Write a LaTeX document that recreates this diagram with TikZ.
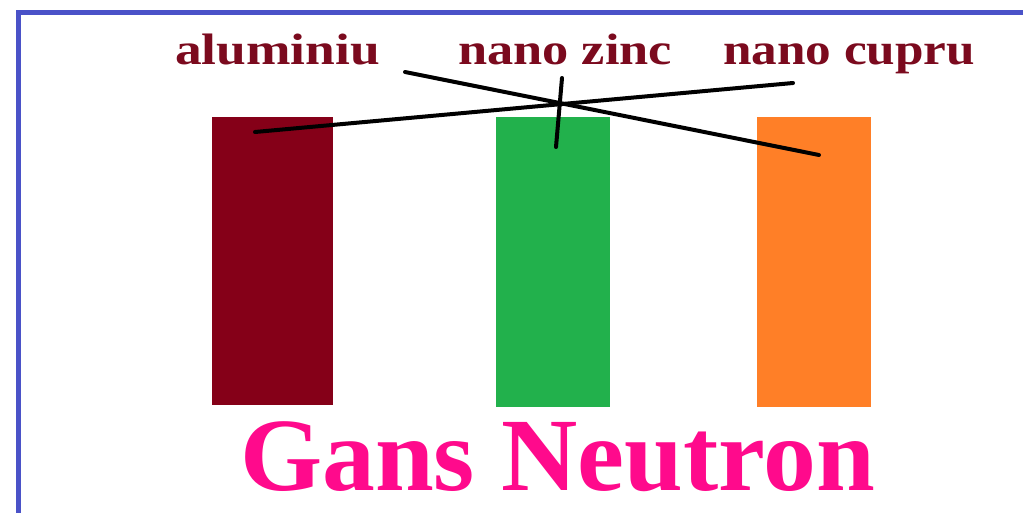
\documentclass[tikz,border=0pt]{standalone}
\usepackage{fontspec}
\setmainfont{Liberation Serif}
\usepackage{graphicx}
\definecolor{frameblue}{HTML}{4A52C8}
\definecolor{labelred}{HTML}{7B0A1E}
\definecolor{barred}{HTML}{850018}
\definecolor{bargreen}{HTML}{22B14C}
\definecolor{barorange}{HTML}{FF7F27}
\definecolor{titlepink}{HTML}{FF0A8C}
\tikzset{
  bar/.style={anchor=north west, inner sep=0pt, outer sep=0pt},
  lbl/.style={anchor=base, inner sep=0pt, text=labelred},
  pointer/.style={draw=black, line width=4pt, line cap=round},
}
\newcommand\fitw[3]{\resizebox{#1}{\height}{\fontsize{#2}{#2}\selectfont\bfseries #3}}
\begin{document}
\begin{tikzpicture}[x=1pt,y=-1pt]
\useasboundingbox (0,0) rectangle (1023,513);
\clip (0,0) rectangle (1023,513);
\fill[white] (0,0) rectangle (1023,513);
\draw[frameblue, line width=5pt] (18.5,12.5) rectangle (1040,530);
% bars
\node[bar, fill=barred, minimum width=121pt, minimum height=288pt] (al) at (212,117) {};
\node[bar, fill=bargreen, minimum width=114pt, minimum height=290pt] (zn) at (496,117) {};
\node[bar, fill=barorange, minimum width=114pt, minimum height=290pt] (cu) at (757,117) {};
% labels
\node[lbl] (lal) at (277.5,65) {\fitw{205pt}{44}{aluminiu}};
\node[lbl] (lzn) at (565,65) {\fitw{214pt}{44}{nano zinc}};
\node[lbl] (lcu) at (849,65) {\fitw{252pt}{44}{nano cupru}};
\node[anchor=base, inner sep=0pt, text=titlepink] (title) at (557.5,490) {\fitw{635pt}{104}{Gans Neutron}};
% pointer ends
\coordinate (p1a) at (255,132);
\coordinate (p1b) at (793,83);
\coordinate (p2a) at (405,72);
\coordinate (p2b) at (819,155);
\coordinate (p3a) at (562,78);
\coordinate (p3b) at (556,147);
\draw[pointer] (p1a) -- (p1b);
\draw[pointer] (p2a) -- (p2b);
\draw[pointer] (p3a) -- (p3b);
\end{tikzpicture}
\end{document}
